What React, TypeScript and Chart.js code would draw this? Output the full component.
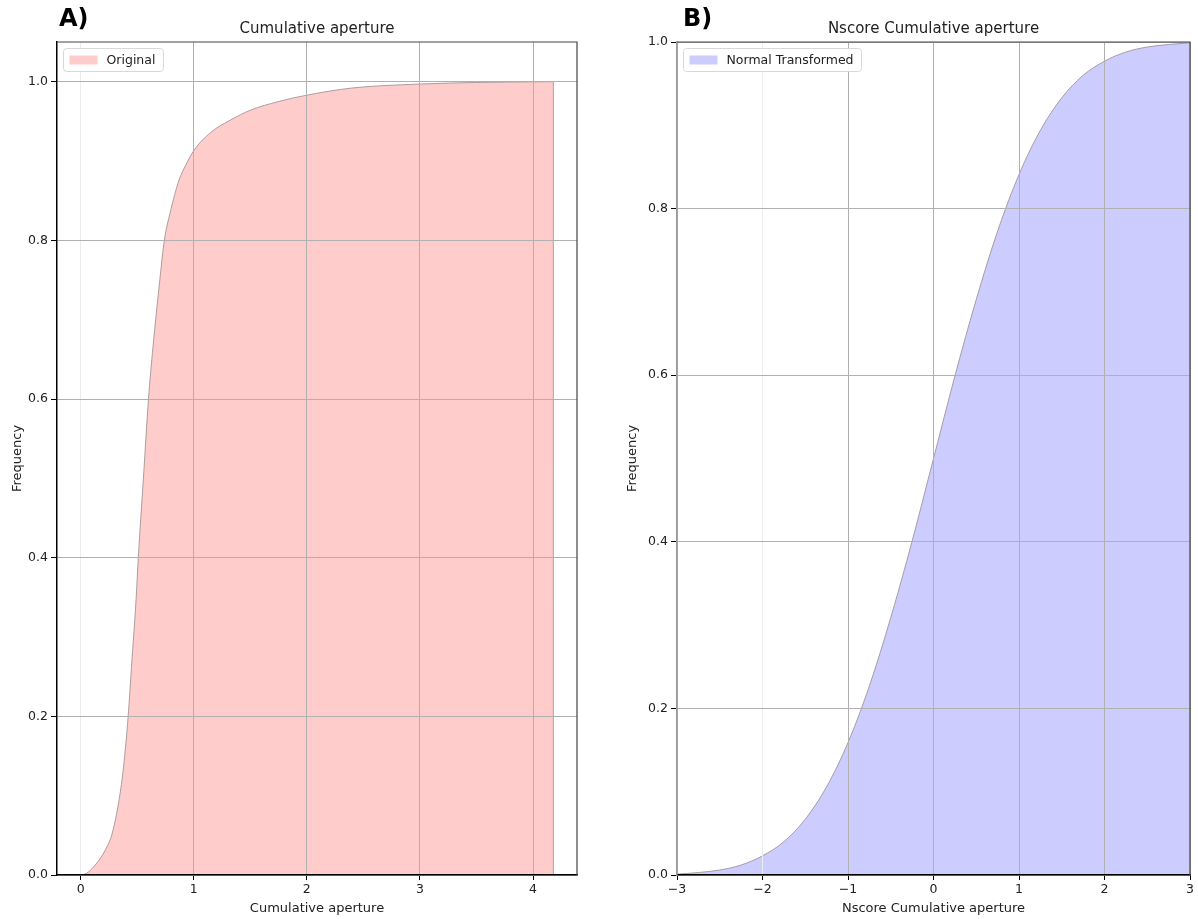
import React, { useEffect, useRef } from 'react';
import { Chart, registerables } from 'chart.js';

Chart.register(...registerables);

const FONT = "'DejaVu Sans', 'Noto Sans', sans-serif";
Chart.defaults.font.family = FONT;

// ---- Panel A: cumulative aperture (original) ----
const APERTURE_X = [0, 0.05, 0.12, 0.22, 0.28, 0.34, 0.38, 0.42, 0.45, 0.49, 0.51, 0.555, 0.6, 0.64, 0.7, 0.74, 0.79, 0.87, 0.93, 1.0, 1.15, 1.33, 1.5, 1.75, 2.0, 2.4, 3.0, 3.5, 4.18];
const APERTURE_CDF = [0, 0.002, 0.011, 0.032, 0.053, 0.095, 0.137, 0.2, 0.263, 0.347, 0.4, 0.5, 0.6, 0.666, 0.75, 0.8, 0.834, 0.876, 0.895, 0.913, 0.936, 0.952, 0.964, 0.975, 0.983, 0.992, 0.997, 0.999, 1.0];
const A_X_TICKS = [0, 1, 2, 3, 4];
const A_X_TICK_LABELS = ['0', '1', '2', '3', '4'];

// ---- Panel B: normal-score transformed ----
const NSCORE_X = [-3, -2.75, -2.5, -2.25, -2, -1.75, -1.5, -1.25, -1, -0.75, -0.5, -0.25, 0, 0.25, 0.5, 0.75, 1, 1.25, 1.5, 1.75, 2, 2.25, 2.5, 2.75, 3];
const NSCORE_CDF = [0.001, 0.003, 0.006, 0.012, 0.023, 0.04, 0.067, 0.106, 0.159, 0.227, 0.309, 0.401, 0.5, 0.599, 0.691, 0.773, 0.841, 0.894, 0.933, 0.96, 0.977, 0.988, 0.994, 0.997, 0.999];
const B_X_TICKS = [-3, -2, -1, 0, 1, 2, 3];
const B_X_TICK_LABELS = ['\u22123', '\u22122', '\u22121', '0', '1', '2', '3'];

const Y_TICKS = [0, 0.2, 0.4, 0.6, 0.8, 1.0];
const Y_TICK_LABELS = ['0.0', '0.2', '0.4', '0.6', '0.8', '1.0'];

const EDGE = 'rgba(150,140,140,0.8)';

type PanelCfg = {
  letter: string;
  title: string;
  xTitle: string;
  label: string;
  xs: number[];
  ys: number[];
  fill: string;
  xMin: number;
  xMax: number;
  yMax: number;
  xTicks: number[];
  xTickLabels: string[];
  lightX: number;
  padLeft: number;
  padRight: number;
  yTitlePad: number;
  letterDx: number;
  leftSpine: string;
  closeEdge: boolean;
};

const PANEL_A: PanelCfg = {
  letter: 'A)',
  title: 'Cumulative aperture',
  xTitle: 'Cumulative aperture',
  label: 'Original',
  xs: APERTURE_X,
  ys: APERTURE_CDF,
  fill: 'rgb(255,204,204)',
  xMin: -0.209,
  xMax: 4.389,
  yMax: 1.05,
  xTicks: A_X_TICKS,
  xTickLabels: A_X_TICK_LABELS,
  lightX: 0,
  padLeft: 0,
  padRight: 22,
  yTitlePad: 10,
  letterDx: 2,
  leftSpine: '#000',
  closeEdge: true,
};

const PANEL_B: PanelCfg = {
  letter: 'B)',
  title: 'Nscore Cumulative aperture',
  xTitle: 'Nscore Cumulative aperture',
  label: 'Normal Transformed',
  xs: NSCORE_X,
  ys: NSCORE_CDF,
  fill: 'rgb(204,204,255)',
  xMin: -3,
  xMax: 3,
  yMax: 1.0,
  xTicks: B_X_TICKS,
  xTickLabels: B_X_TICK_LABELS,
  lightX: -2,
  padLeft: 21,
  padRight: 8,
  yTitlePad: 5,
  letterDx: 6,
  leftSpine: '#999',
  closeEdge: false,
};

function decorPlugin(cfg: PanelCfg) {
  return {
    id: 'decor',
    afterDatasetsDraw(chart: any) {
      if (!cfg.closeEdge) return;
      const meta = chart.getDatasetMeta(0);
      const last = meta.data[meta.data.length - 1];
      const y0 = chart.scales.y.getPixelForValue(0);
      const ctx = chart.ctx;
      ctx.save();
      ctx.strokeStyle = EDGE;
      ctx.lineWidth = 1;
      ctx.beginPath();
      ctx.moveTo(last.x, last.y);
      ctx.lineTo(last.x, y0);
      ctx.stroke();
      ctx.restore();
    },
    afterDraw(chart: any) {
      const ctx = chart.ctx;
      const a = chart.chartArea;
      ctx.save();
      // top and right spines
      ctx.strokeStyle = '#444';
      ctx.lineWidth = 1.2;
      ctx.beginPath();
      ctx.moveTo(a.left, a.top);
      ctx.lineTo(a.right, a.top);
      ctx.lineTo(a.right, a.bottom);
      ctx.stroke();
      // title
      ctx.fillStyle = '#222';
      ctx.font = `15px ${FONT}`;
      ctx.textAlign = 'center';
      ctx.textBaseline = 'alphabetic';
      ctx.fillText(cfg.title, (a.left + a.right) / 2, 33);
      // panel letter
      ctx.font = `bold 24px ${FONT}`;
      ctx.textAlign = 'left';
      ctx.fillStyle = '#000';
      ctx.fillText(cfg.letter, a.left + cfg.letterDx, 26);
      // legend
      const label = chart.data.datasets[0].label as string;
      ctx.font = `12.5px ${FONT}`;
      const tw = ctx.measureText(label).width;
      const bx = a.left + 6.5;
      const by = a.top + 6.5;
      const bw = 44 + tw + 7;
      const bh = 23;
      ctx.beginPath();
      if ((ctx as any).roundRect) (ctx as any).roundRect(bx, by, bw, bh, 3);
      else ctx.rect(bx, by, bw, bh);
      ctx.fillStyle = 'rgba(255,255,255,0.9)';
      ctx.fill();
      ctx.strokeStyle = '#d8d8d8';
      ctx.lineWidth = 1;
      ctx.stroke();
      ctx.fillStyle = cfg.fill;
      ctx.fillRect(bx + 6, by + 7, 28, 9);
      ctx.fillStyle = '#222';
      ctx.textBaseline = 'middle';
      ctx.fillText(label, bx + 43, by + bh / 2 + 0.5);
      ctx.restore();
    },
  };
}

function Panel({ cfg, left }: { cfg: PanelCfg; left: number }) {
  const ref = useRef<HTMLCanvasElement | null>(null);
  useEffect(() => {
    if (!ref.current) return;
    const data = cfg.xs.map((x, i) => ({ x, y: cfg.ys[i] }));
    const chart = new Chart(ref.current, {
      type: 'line',
      data: {
        datasets: [
          {
            label: cfg.label,
            data,
            fill: 'origin',
            backgroundColor: cfg.fill,
            borderColor: EDGE,
            borderWidth: 1,
            pointRadius: 0,
            cubicInterpolationMode: 'monotone',
          },
        ],
      },
      options: {
        responsive: false,
        maintainAspectRatio: false,
        animation: false,
        devicePixelRatio: 1,
        layout: { padding: { left: cfg.padLeft, right: cfg.padRight, top: 42, bottom: 0 } },
        plugins: {
          legend: { display: false },
          title: { display: false },
          tooltip: { enabled: false },
        },
        scales: {
          x: {
            type: 'linear',
            min: cfg.xMin,
            max: cfg.xMax,
            afterBuildTicks: (s: any) => {
              s.ticks = cfg.xTicks.map((v) => ({ value: v }));
            },
            afterFit: (s: any) => {
              s.height = 44;
            },
            grid: {
              z: 1,
              color: (c: any) => (c.tick && c.tick.value === cfg.lightX ? '#ececec' : '#b0b0b0'),
              lineWidth: 1,
              drawTicks: true,
              tickLength: 5,
              tickColor: '#000',
              tickWidth: 1,
            },
            border: { display: true, color: '#000', width: 1.5, z: 2 },
            ticks: {
              z: 2,
              autoSkip: false,
              maxRotation: 0,
              padding: 2,
              color: '#222',
              font: { family: FONT, size: 12.5 },
              callback: (v: any) => {
                const i = cfg.xTicks.indexOf(Number(v));
                return i >= 0 ? cfg.xTickLabels[i] : '';
              },
            },
            title: {
              display: true,
              text: cfg.xTitle,
              color: '#222',
              font: { family: FONT, size: 13 },
              padding: { top: 0, bottom: 3 },
            },
          },
          y: {
            type: 'linear',
            min: 0,
            max: cfg.yMax,
            afterBuildTicks: (s: any) => {
              s.ticks = Y_TICKS.map((v) => ({ value: v }));
            },
            afterFit: (s: any) => {
              s.width = 57;
            },
            grid: {
              z: 1,
              color: '#b0b0b0',
              lineWidth: 1,
              drawTicks: true,
              tickLength: 6,
              tickColor: '#000',
              tickWidth: 1,
            },
            border: { display: true, color: cfg.leftSpine, width: 1.5, z: 2 },
            ticks: {
              z: 2,
              padding: 3,
              color: '#222',
              font: { family: FONT, size: 12.5 },
              callback: (v: any) => {
                const i = Y_TICKS.findIndex((t) => Math.abs(t - Number(v)) < 1e-9);
                return i >= 0 ? Y_TICK_LABELS[i] : '';
              },
            },
            title: {
              display: true,
              text: 'Frequency',
              color: '#222',
              font: { family: FONT, size: 13 },
              padding: { top: cfg.yTitlePad, bottom: 0 },
            },
          },
        },
      } as any,
      plugins: [decorPlugin(cfg)],
    });
    return () => chart.destroy();
  }, [cfg]);
  return (
    <canvas
      ref={ref}
      width={599}
      height={919}
      style={{ position: 'absolute', left, top: 0, width: 599, height: 919, display: 'block' }}
    />
  );
}

export default function App() {
  return (
    <div style={{ position: 'fixed', left: 0, top: 0, width: 1198, height: 919, background: '#fff' }}>
      <Panel cfg={PANEL_A} left={0} />
      <Panel cfg={PANEL_B} left={599} />
    </div>
  );
}
